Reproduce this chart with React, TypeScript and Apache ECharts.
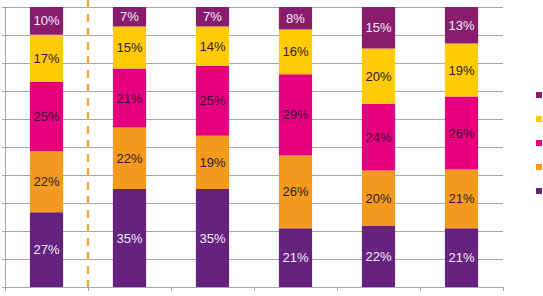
import React, { useEffect, useRef } from "react";
import * as echarts from "echarts";

// Six columns, each split into five shares (bottom to top)
const categories = ["1", "2", "3", "4", "5", "6"];
const seriesNames = ["Groupe 1", "Groupe 2", "Groupe 3", "Groupe 4", "Groupe 5"];
const share1 = [27, 35, 35, 21, 22, 21];
const share2 = [22, 22, 19, 26, 20, 21];
const share3 = [25, 21, 25, 29, 24, 26];
const share4 = [17, 15, 14, 16, 20, 19];
const share5 = [10, 7, 7, 8, 15, 13];
const shares = [share1, share2, share3, share4, share5];

const colors = ["#65227f", "#f39a1f", "#e5007e", "#ffcb05", "#891c6c"];
const labelColors = ["#f4ecf8", "#2e1a2c", "#3d0c33", "#2e1a2c", "#f4ecf8"];

export default function App() {
  const ref = useRef<HTMLDivElement>(null);

  useEffect(() => {
    if (!ref.current) return;
    const chart = echarts.init(ref.current, undefined, { renderer: "svg" });

    // 100% stacked: each column is scaled to its own total
    const totals = categories.map((_, j) =>
      shares.reduce((s, arr) => s + arr[j], 0)
    );

    const series = shares.map((arr, i) => ({
      name: seriesNames[i],
      type: "bar",
      stack: "total",
      barWidth: "40%",
      itemStyle: { color: colors[i] },
      data: arr.map((v, j) => (v / totals[j]) * 100),
      label: {
        show: true,
        position: "inside",
        color: labelColors[i],
        fontFamily: "Liberation Sans, Arial, sans-serif",
        fontSize: 13,
        formatter: (p: any) => `${shares[i][p.dataIndex]}%`,
      },
    }));

    chart.setOption({
      animation: false,
      grid: { left: 5, right: 40, top: 7, bottom: 9, containLabel: false },
      legend: {
        orient: "vertical",
        left: 536,
        top: 92,
        padding: 0,
        icon: "rect",
        itemWidth: 6,
        itemHeight: 6,
        itemGap: 18,
        selectedMode: false,
        data: [...seriesNames].reverse(),
        formatter: () => "",
        textStyle: { fontSize: 6, lineHeight: 6, padding: 0 },
      },
      xAxis: {
        type: "category",
        data: categories,
        axisLine: { show: true, lineStyle: { color: "#a6a6a6", width: 1 } },
        axisTick: { show: true, length: 4, lineStyle: { color: "#a6a6a6" } },
        axisLabel: { show: false },
      },
      yAxis: {
        type: "value",
        min: 0,
        max: 100,
        interval: 10,
        axisLine: { show: true, lineStyle: { color: "#a6a6a6", width: 1 } },
        axisTick: { show: true, length: 3, lineStyle: { color: "#a6a6a6" } },
        axisLabel: { show: false },
        splitLine: { lineStyle: { color: "#a6a6a6", width: 1 } },
      },
      graphic: [
        {
          type: "line",
          shape: { x1: 88, y1: 0, x2: 88, y2: 287 },
          style: { stroke: "#f5a742", lineWidth: 2.5, lineDash: [8, 6] },
          z: 10,
        },
      ],
      series,
    });

    return () => chart.dispose();
  }, []);

  return <div ref={ref} style={{ width: 543, height: 296, position: "absolute", left: 0, top: 0 }} />;
}
